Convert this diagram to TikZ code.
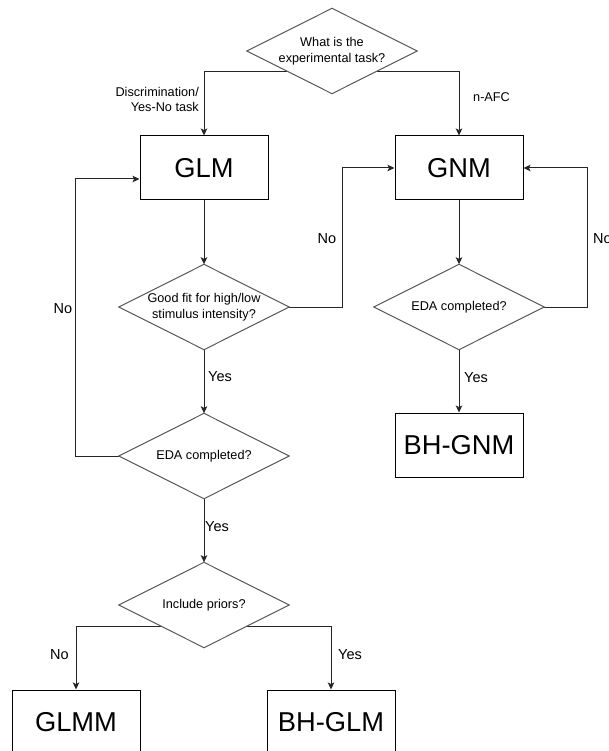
\documentclass[tikz,border=0pt]{standalone}
\usepackage{fontspec}
\setmainfont{Liberation Sans}
\usetikzlibrary{arrows.meta,calc}
\pgfdeclarelayer{background}
\pgfdeclarelayer{shapes}
\pgfsetlayers{background,shapes,main}
\begin{document}
\begin{tikzpicture}[x=1pt,y=-1pt,
  box/.style={draw=black, fill=white, line width=1pt, minimum width=128pt, minimum height=64pt, inner sep=0pt, font=\fontsize{27.3}{30}\selectfont},
  dec/.style={minimum width=170pt, minimum height=85pt, inner sep=0pt, align=center, font=\fontsize{12.7}{15.5}\selectfont},
  dshape/.style={draw=black!65, fill=white, line width=1pt, line join=miter},
  conn/.style={draw=black!85, line width=1pt, -{Stealth[length=7pt,width=6.5pt,inset=1.5pt]}},
  lbl/.style={font=\fontsize{14.5}{17}\selectfont, inner sep=0pt},
  small/.style={font=\fontsize{12.7}{15.7}\selectfont, inner sep=0pt, align=right}
]
\useasboundingbox (0,0) rectangle (609,751);

% decision nodes
\node[dec] (q1) at (332,51) {What is the\\experimental task?};
\node[dec] (q2) at (204,307) {Good fit for high/low\\stimulus intensity?};
\node[dec] (eda1) at (204,456) {EDA completed?};
\node[dec] (q3) at (204,605) {Include priors?};
\node[dec] (eda2) at (459,307) {EDA completed?};

% model boxes
\node[box] (glm) at (204,168) {GLM};
\node[box] (gnm) at (459,168) {GNM};
\node[box] (bhgnm) at (459,445) {BH-GNM};
\node[box] (glmm) at (76,722) {GLMM};
\node[box] (bhglm) at (331,722) {BH-GLM};

\begin{pgfonlayer}{shapes}
\foreach \n in {q1,q2,eda1,q3,eda2}
  \draw[dshape] (\n.north) -- (\n.east) -- (\n.south) -- (\n.west) -- cycle;
\end{pgfonlayer}

\begin{pgfonlayer}{background}
\draw[conn] ($(q1.center)+(0,21)$) -| (glm.north);
\draw[conn] ($(q1.center)+(0,21)$) -| (gnm.north);
\draw[conn] (glm.south) -- (q2.north);
\draw[conn] (q2.east) -- ++(53,0) |- (gnm.west);
\draw[conn] (q2.south) -- (eda1.north);
\draw[conn] (eda1.west) -- ++(-43,0) |- ($(glm.west)+(0,11)$);
\draw[conn] (eda1.south) -- (q3.north);
\draw[conn] (gnm.south) -- (eda2.north);
\draw[conn] (eda2.east) -- ++(43,0) |- (gnm.east);
\draw[conn] (eda2.south) -- (bhgnm.north);
\draw[conn] ($(q3.center)+(0,21)$) -| (glmm.north);
\draw[conn] ($(q3.center)+(0,21)$) -| (bhglm.north);
\end{pgfonlayer}

% edge labels
\node[small, anchor=east] (l1) at (199,99.5) {Discrimination/\\Yes-No task};
\node[small, anchor=west] (l2) at (473,97) {n-AFC};
\node[lbl] (l3) at (327,239) {No};
\node[lbl] (l4) at (63,309) {No};
\node[lbl, anchor=west] (l5) at (208,377) {Yes};
\node[lbl, anchor=west] (l6) at (205,527) {Yes};
\node[lbl, anchor=west] (l7) at (593,239) {No};
\node[lbl, anchor=west] (l8) at (464,378) {Yes};
\node[lbl] (l9) at (59.5,655) {No};
\node[lbl, anchor=west] (l10) at (338,655) {Yes};
\end{tikzpicture}
\end{document}
